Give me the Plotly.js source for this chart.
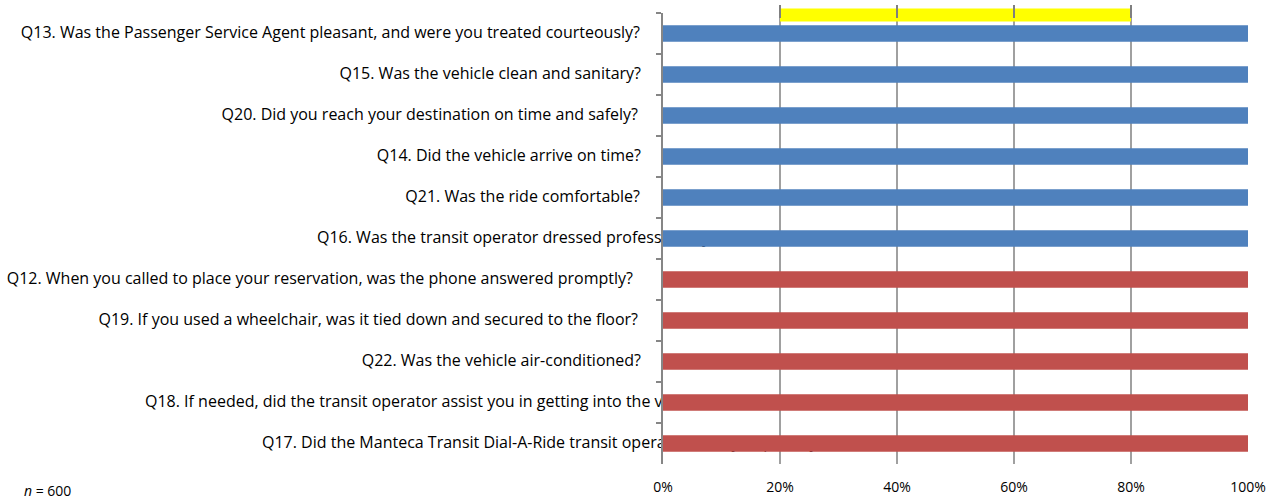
<!DOCTYPE html>
<html>
<head>
<meta charset="utf-8">
<script src="https://cdn.plot.ly/plotly-3.0.1.min.js"></script>
<style>
  html, body { margin: 0; padding: 0; background: #fff; }
  #chart { width: 1278px; height: 500px; }
</style>
</head>
<body>
<div id="chart"></div>
<script>
// ---- data ----
const questions = [
  "Q13. Was the Passenger Service Agent pleasant, and were you treated courteously?",
  "Q15. Was the vehicle clean and sanitary?",
  "Q20. Did you reach your destination on time and safely?",
  "Q14. Did the vehicle arrive on time?",
  "Q21. Was the ride comfortable?",
  "Q16. Was the transit operator dressed professionally?",
  "Q12. When you called to place your reservation, was the phone answered promptly?",
  "Q19. If you used a wheelchair, was it tied down and secured to the floor?",
  "Q22. Was the vehicle air-conditioned?",
  "Q18. If needed, did the transit operator assist you in getting into the vehicle?",
  "Q17. Did the Manteca Transit Dial-A-Ride transit operator treat you politely?"
];
const blueQuestions = questions.slice(0, 6);
const blueValues = [100, 100, 100, 100, 100, 100];
const redQuestions = questions.slice(6);
const redValues = [100, 100, 100, 100, 100];
const bandStart = [20];
const bandEnd = [80];
const xTickValues = [0, 20, 40, 60, 80, 100];
const nText = "<i>n</i> = 600";

// ---- layout helpers (positions, not data) ----
const W = 1278, H = 500;
const mL = 0, mR = 30, mT = 0, mB = 36;
const plotW = W - mL - mR;          // 1248
const plotH = H - mT - mB;          // 464
const axisLeftPx = 663;             // x of 0%
const xDomain = [axisLeftPx / plotW, 1];
const yTopPx = 13, yBotPx = 464;
const yDomain = [(plotH - yBotPx) / plotH, (plotH - yTopPx) / plotH];
const labelDomain = [0, (plotH - yTopPx - 1) / plotH];
const y3Domain = [(plotH - 25) / plotH, (plotH - 5) / plotH];

// label anchoring in page px: [side, px]  'L' = right end at px, 'R' = left start at px
const labelAnchor = [
  ['L', 640], ['L', 641], ['L', 638], ['L', 641], ['L', 640],
  ['R', 317], ['L', 633], ['L', 638], ['L', 641], ['R', 145], ['R', 262]
];
const labelX = labelAnchor.map(a => a[1]);
const labelPos = labelAnchor.map(a => a[0] === 'L' ? 'middle left' : 'middle right');

const font = '"Open Sans", Lato, "Noto Sans", sans-serif';

const traces = [
  {
    type: 'scatter', mode: 'text',
    x: labelX, y: questions, text: questions,
    textposition: labelPos,
    textfont: { family: font, size: 16, color: '#000000' },
    cliponaxis: false, hoverinfo: 'skip', showlegend: false,
    xaxis: 'x', yaxis: 'y'
  },
  {
    type: 'bar', orientation: 'h',
    x: blueValues, y: blueQuestions, width: 0.4,
    marker: { color: '#4F81BD', line: { width: 0 } },
    hoverinfo: 'skip', showlegend: false,
    xaxis: 'x2', yaxis: 'y2'
  },
  {
    type: 'bar', orientation: 'h',
    x: redValues, y: redQuestions, width: 0.4,
    marker: { color: '#C0504D', line: { width: 0 } },
    hoverinfo: 'skip', showlegend: false,
    xaxis: 'x2', yaxis: 'y2'
  },
  {
    type: 'bar', orientation: 'h',
    base: bandStart, x: bandEnd.map((e, i) => e - bandStart[i]), y: [0], width: 0.65,
    marker: { color: '#FFFF00', line: { width: 0 } },
    hoverinfo: 'skip', showlegend: false,
    xaxis: 'x3', yaxis: 'y3'
  }
];

const layout = {
  width: W, height: H,
  margin: { l: mL, r: mR, t: mT, b: mB, pad: 0 },
  paper_bgcolor: '#ffffff',
  plot_bgcolor: 'rgba(0,0,0,0)',
  barmode: 'overlay',
  showlegend: false,
  font: { family: font, size: 14, color: '#000000' },
  // label subplot: full width, pixel units
  xaxis: {
    domain: [0, 1], anchor: 'y', range: [0, plotW], visible: false
  },
  yaxis: {
    domain: labelDomain, anchor: 'x', type: 'category',
    categoryorder: 'array', categoryarray: questions,
    range: [questions.length - 0.5, -0.5], visible: false
  },
  // bar subplot with grid and axes
  xaxis2: {
    domain: xDomain, anchor: 'y2', range: [0, 100],
    tickvals: xTickValues, ticktext: xTickValues.map(v => v + '%'),
    showgrid: true, gridcolor: '#a0a0a0', gridwidth: 1.5,
    zeroline: false, showline: false, ticks: '',
    ticklabelstandoff: 13,
    tickfont: { family: font, size: 14, color: '#000000' }
  },
  yaxis2: {
    domain: yDomain, anchor: 'x2', type: 'category',
    categoryorder: 'array', categoryarray: questions,
    range: [questions.length - 0.5, -0.5],
    showticklabels: false, showgrid: false, zeroline: false,
    showline: true, linecolor: '#868686', linewidth: 2,
    ticks: 'outside', tickson: 'boundaries', ticklen: 5, tickcolor: '#868686', tickwidth: 1.5
  },
  xaxis3: {
    domain: xDomain, anchor: 'y3', range: [0, 100], side: 'top',
    ticks: 'inside', tickvals: [20, 40, 60, 80], ticklen: 13, tickwidth: 1.5,
    tickcolor: '#7f7f7f', showticklabels: false, showgrid: false,
    zeroline: false, showline: false
  },
  yaxis3: {
    domain: y3Domain, anchor: 'x3', range: [-0.5, 0.5], visible: false
  },
  annotations: [
    {
      xref: 'paper', yref: 'paper', x: 22 / plotW, y: (plotH - 490) / plotH,
      xanchor: 'left', yanchor: 'middle', showarrow: false,
      text: nText, font: { family: font, size: 14, color: '#000000' }
    }
  ]
};

Plotly.newPlot('chart', traces, layout, { staticPlot: true, displayModeBar: false });
</script>
</body>
</html>
